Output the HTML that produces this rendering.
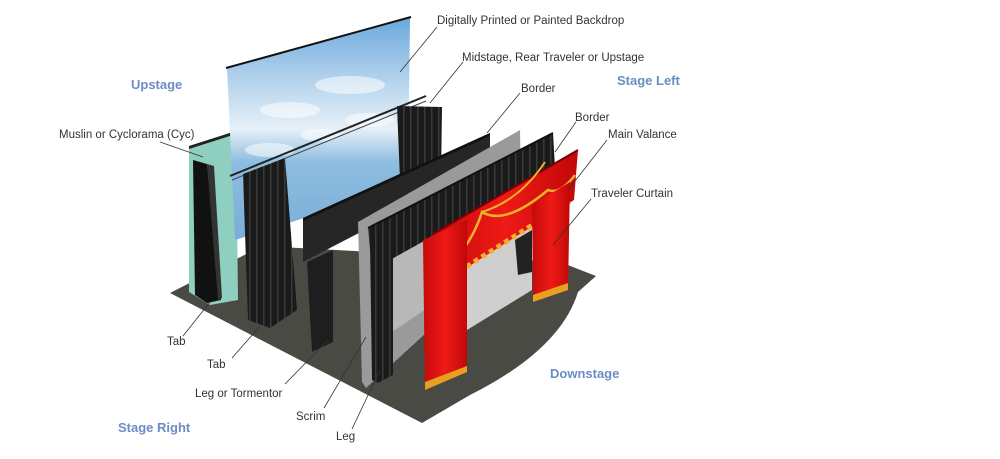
<!DOCTYPE html>
<html><head><meta charset="utf-8"><style>
html,body{margin:0;padding:0;background:#fff;width:1000px;height:459px;overflow:hidden}
svg{display:block}
.l{font-family:"Liberation Sans",sans-serif;font-size:11.5px;fill:#333}
.b{font-family:"Liberation Sans",sans-serif;font-size:13px;font-weight:bold;fill:#6b8cc4}
.ld{stroke:#333;stroke-width:0.8;fill:none}
</style></head><body>
<svg width="1000" height="459" viewBox="0 0 1000 459">
<defs>
<linearGradient id="sky" x1="0" y1="0" x2="0" y2="1">
<stop offset="0" stop-color="#6aa8dc"/><stop offset="0.3" stop-color="#b9d6ee"/><stop offset="0.5" stop-color="#e6f0f8"/><stop offset="0.65" stop-color="#8dbde0"/><stop offset="1" stop-color="#7aaed8"/></linearGradient>
<linearGradient id="red" x1="0" y1="0" x2="1" y2="0">
<stop offset="0" stop-color="#c50a0a"/><stop offset="0.5" stop-color="#ee1a16"/><stop offset="1" stop-color="#c00808"/></linearGradient>
<pattern id="pleat" width="7" height="10" patternUnits="userSpaceOnUse"><rect width="7" height="10" fill="#1a1a1a"/><rect x="4" width="1.5" height="10" fill="#3a3a3a"/></pattern>
</defs>
<path d="M170,293 L262,246 L560,262 L596,276 L578,292 Q560,350 470,395 L422,423 Z" fill="#4a4a45"/>
<polygon points="189,146 236,131 238,300 210,305 189,292" fill="#8fcfbf"/>
<polygon points="189,146 236,131 236,134 189,149" fill="#222"/>
<polygon points="227,68 410,18 408,185 235,240" fill="url(#sky)"/>
<g fill="#ffffff" opacity="0.55">
<ellipse cx="290" cy="110" rx="30" ry="8"/><ellipse cx="350" cy="85" rx="35" ry="9"/><ellipse cx="270" cy="150" rx="25" ry="7"/><ellipse cx="370" cy="120" rx="25" ry="7"/><ellipse cx="320" cy="135" rx="20" ry="6"/>
</g>
<line x1="226" y1="68" x2="411" y2="17" stroke="#111" stroke-width="2"/>
<polygon points="193,160 207,164 221,300 207,303 195,295" fill="#111"/>
<polygon points="207,164 214,166 222,298 218,300" fill="#333"/>
<line x1="230" y1="176" x2="426" y2="96" stroke="#222" stroke-width="2"/>
<line x1="232" y1="180" x2="426" y2="101" stroke="#444" stroke-width="1"/>
<polygon points="243,174 285,158 297,310 270,328 248,320" fill="url(#pleat)"/>
<polygon points="397,106 442,107 441,176 400,180" fill="url(#pleat)"/>
<polygon points="303,218 490,133 490,165 303,262" fill="#262626"/>
<polygon points="303,218 490,133 490,136 303,221" fill="#111"/>
<polygon points="307,262 333,250 333,342 312,352" fill="#1e1e1e"/>
<polygon points="358,222 520,130 522,245 366,388 362,382" fill="#9a9a9a"/>
<polygon points="380,240 520,160 520,245 395,330 380,330" fill="#b8b8b8"/>
<polygon points="368,228 553,133 555,168 372,270" fill="url(#pleat)"/>
<line x1="368" y1="228" x2="553" y2="133" stroke="#111" stroke-width="2"/>
<polygon points="370,240 393,232 393,375 378,383 372,380" fill="url(#pleat)"/>
<polygon points="467,262 532,222 532,290 467,330" fill="#cfcfcf"/>
<polygon points="515,240 532,230 532,272 518,275" fill="#222"/>
<polygon points="433,234 578,150 574,200 436,287" fill="url(#red)"/>
<polyline points="433,234 578,150" stroke="#7a0000" stroke-width="2" fill="none"/>
<path d="M436,286 L572,200" stroke="#f2b02a" stroke-width="5" stroke-dasharray="5,4" fill="none"/>
<path d="M438,275 Q470,250 482,212 Q505,226 548,190 Q560,195 575,175" stroke="#f2b02a" stroke-width="2.5" fill="none"/>
<path d="M482,212 Q520,200 545,162" stroke="#f2b02a" stroke-width="2" fill="none"/>
<polygon points="423,240 467,220 467,372 425,390" fill="url(#red)"/>
<polygon points="425,382 467,366 467,372 425,390" fill="#e8a020"/>
<polygon points="532,205 570,182 568,290 533,302" fill="url(#red)"/>
<polygon points="533,295 568,283 568,290 533,302" fill="#e8a020"/>
<path class="ld" d="M437,27 L400,72 M463,62 L430,103 M520,93 L487,133 M576,122 L555,152 M607,140 L568,190 M591,199 L553,245 M160,142 L203,157 M183,336 L210,302 M232,358 L260,326 M285,384 L328,340 M324,408 L366,337 M352,429 L380,370"/>
<text class="l" x="437" y="24">Digitally Printed or Painted Backdrop</text>
<text class="l" x="462" y="61">Midstage, Rear Traveler or Upstage</text>
<text class="l" x="521" y="92">Border</text>
<text class="l" x="575" y="121">Border</text>
<text class="l" x="608" y="138">Main Valance</text>
<text class="l" x="591" y="197">Traveler Curtain</text>
<text class="l" x="59" y="138">Muslin or Cyclorama (Cyc)</text>
<text class="l" x="167" y="345">Tab</text>
<text class="l" x="207" y="368">Tab</text>
<text class="l" x="195" y="397">Leg or Tormentor</text>
<text class="l" x="296" y="420">Scrim</text>
<text class="l" x="336" y="440">Leg</text>
<text class="b" x="131" y="89">Upstage</text>
<text class="b" x="617" y="85">Stage Left</text>
<text class="b" x="550" y="378">Downstage</text>
<text class="b" x="118" y="432">Stage Right</text>
</svg>
</body></html>
